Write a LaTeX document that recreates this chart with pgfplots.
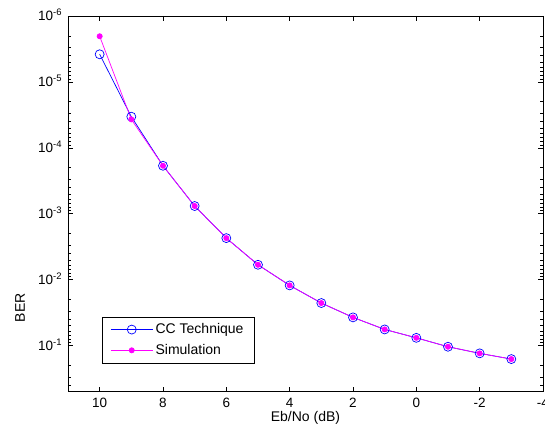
\documentclass[border=0pt]{standalone}
\usepackage{fontspec}
\setmainfont{Liberation Sans}
\usepackage{pgfplots}
\pgfplotsset{compat=1.18}
\definecolor{ccblue}{RGB}{0,0,255}
\definecolor{simmag}{RGB}{255,0,255}
\begin{document}
\fontsize{14bp}{16bp}\selectfont
\begin{tikzpicture}
\begin{axis}[
  name=ax,
  scale only axis,
  width=475bp, height=375.7bp,
  x dir=reverse,
  xmin=-4, xmax=11,
  xtick={10,8,6,4,2,0,-2,-4},
  xticklabels={10,8,6,4,2,0,-2,-4},
  ymode=log, y dir=reverse,
  ymin=1e-6, ymax=0.5,
  ytick={1e-6,1e-5,1e-4,1e-3,1e-2,1e-1},
  yticklabels={10\textsuperscript{-6},10\textsuperscript{-5},10\textsuperscript{-4},
               10\textsuperscript{-3},10\textsuperscript{-2},10\textsuperscript{-1}},
  minor ytick={2e-6,3e-6,4e-6,5e-6,6e-6,7e-6,8e-6,9e-6,
               2e-5,3e-5,4e-5,5e-5,6e-5,7e-5,8e-5,9e-5,
               2e-4,3e-4,4e-4,5e-4,6e-4,7e-4,8e-4,9e-4,
               2e-3,3e-3,4e-3,5e-3,6e-3,7e-3,8e-3,9e-3,
               2e-2,3e-2,4e-2,5e-2,6e-2,7e-2,8e-2,9e-2,
               2e-1,3e-1,4e-1},
  tick align=inside,
  major tick length=5bp, minor tick length=3bp,
  tick style={black, line width=0.6bp},
  axis line style={black, line width=0.8bp},
  ticklabel style={font=\fontsize{13.5bp}{15bp}\selectfont},
  xticklabel style={anchor=base, inner sep=0pt, yshift=-15.5bp},
  yticklabel style={anchor=base east, yshift=-5bp, xshift=-1bp},
  xlabel={Eb/No (dB)},
  xlabel style={at={(axis description cs:0.5,0)}, anchor=base,
    inner sep=0pt, yshift=-30bp},
  ylabel={BER},
  ylabel style={at={(axis description cs:-0.101,0.223)}, anchor=center},
  legend cell align=left,
  legend style={at={(0.0716,0.2)}, anchor=north west, draw=black,
    line width=0.8bp, inner xsep=8bp, inner ysep=4bp, row sep=3.5bp,
    nodes={inner sep=2.5bp}},
  legend image code/.code={%
    \draw[#1, mark repeat=2, mark phase=2]
      plot coordinates {(0bp,0bp) (21bp,0bp) (42bp,0bp)};},
]
\addplot[color=ccblue, line width=0.7bp, mark=o, mark size=4.5bp,
  mark options={line width=0.7bp}] coordinates {
  (10,3.81e-6) (9,3.37e-5) (8,1.87e-4) (7,7.63e-4) (6,2.34e-3)
  (5,5.94e-3) (4,1.22e-2) (3,2.26e-2) (2,3.73e-2) (1,5.68e-2)
  (0,7.62e-2) (-1,0.104) (-2,0.131) (-3,0.160)};
\addlegendentry{CC Technique}
\addplot[color=simmag, line width=0.7bp, mark=*, mark size=2.6bp] coordinates {
  (10,2.03e-6) (9,3.70e-5) (8,1.87e-4) (7,7.63e-4) (6,2.34e-3)
  (5,5.94e-3) (4,1.22e-2) (3,2.26e-2) (2,3.73e-2) (1,5.68e-2)
  (0,7.62e-2) (-1,0.104) (-2,0.131) (-3,0.160)};
\addlegendentry{Simulation}
\end{axis}
\pgfresetboundingbox
\path ([xshift=-68bp,yshift=-39.3bp]ax.south west) rectangle ([xshift=2bp,yshift=16bp]ax.north east);
\end{tikzpicture}
\end{document}
